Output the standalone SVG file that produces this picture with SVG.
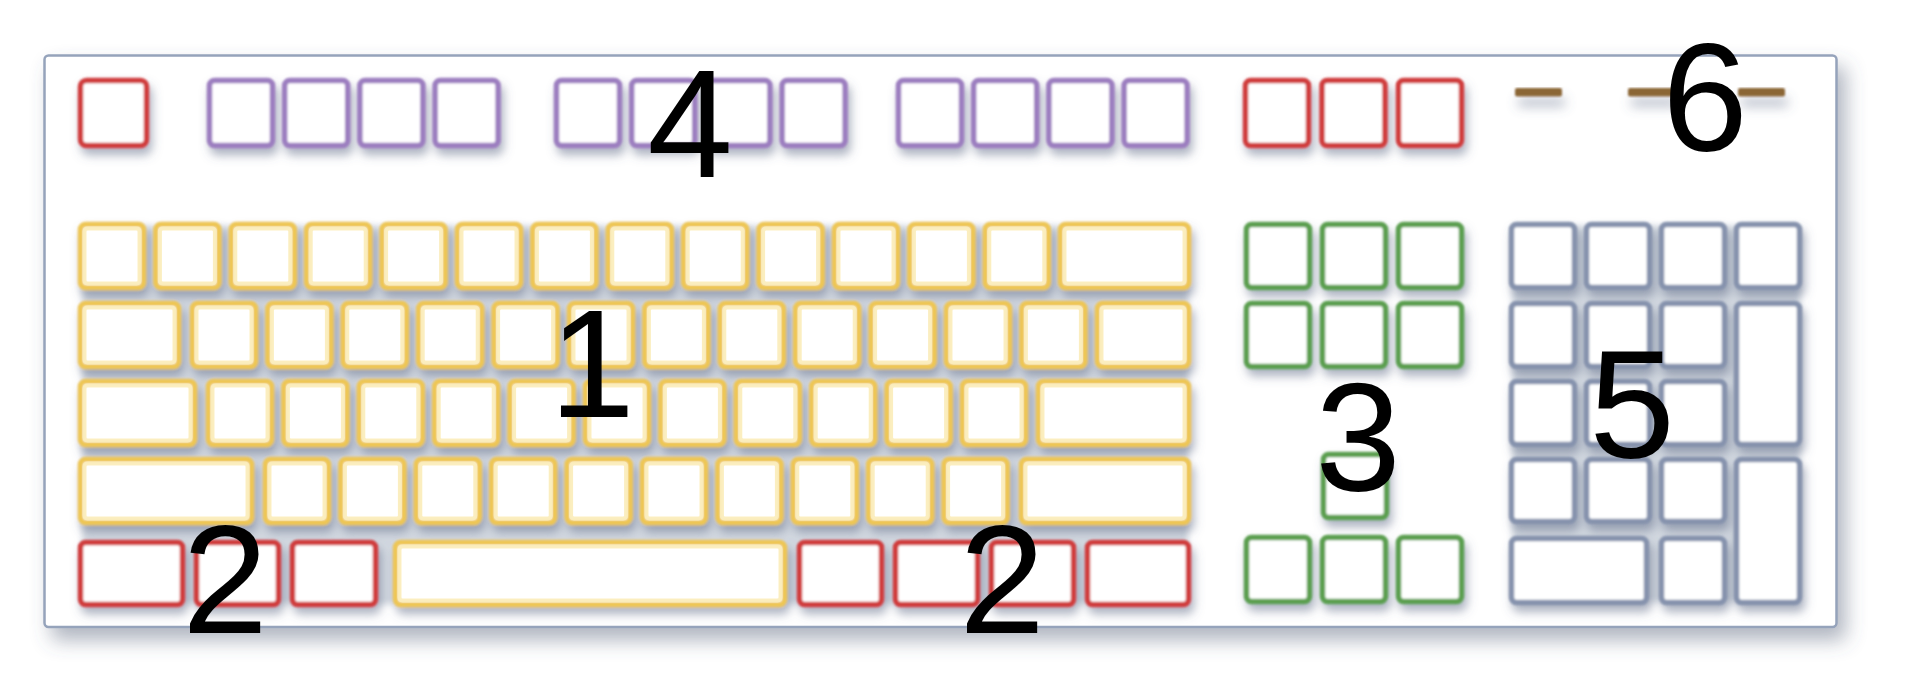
<svg xmlns="http://www.w3.org/2000/svg" width="1910" height="678" viewBox="0 0 1910 678">
<defs>
<filter id="frameShadow" x="-5%" y="-10%" width="115%" height="130%">
<feDropShadow dx="8" dy="12" stdDeviation="10" flood-color="#4d5a75" flood-opacity="0.45"/>
</filter>
<filter id="keyShadow" x="-5%" y="-20%" width="115%" height="160%">
<feDropShadow dx="3" dy="7" stdDeviation="5" flood-color="#5b6884" flood-opacity="0.5"/>
</filter>
<filter id="dashShadow" filterUnits="userSpaceOnUse" x="1490" y="60" width="330" height="90">
<feDropShadow dx="3" dy="10" stdDeviation="6" flood-color="#5b6884" flood-opacity="0.45"/>
</filter>
<filter id="soft" x="-10%" y="-10%" width="120%" height="120%">
<feGaussianBlur stdDeviation="0.8"/>
</filter>
<filter id="bgBlur" x="-5%" y="-5%" width="110%" height="110%">
<feGaussianBlur stdDeviation="3"/>
</filter>
</defs>
<style>
.k{fill:#ffffff;stroke-width:5.5}
.y{stroke:#eec655}
.yi{fill:none;stroke:#fbedba;stroke-width:4}
.r{stroke:#d03c3c}
.p{stroke:#9c7ec0}
.g{stroke:#5b9f4f}
.n{stroke:#8693ad}
.dash{fill:#8b6636}
.lbl{font-family:"Liberation Sans",Arial,sans-serif;font-size:154px;fill:#000000;text-anchor:middle}
</style>

<g id="frame">
<rect x="44.5" y="55.5" width="1792" height="571.5" rx="4" fill="#ffffff" stroke="#95a3bb" stroke-width="2.5" filter="url(#frameShadow)"/>
</g>

<g id="function-row" filter="url(#keyShadow)">
<g filter="url(#soft)">
<rect class="k r" x="80.5" y="80.5" width="66" height="65" rx="6"/>
<rect class="k p" x="209.5" y="80.5" width="63" height="65" rx="5"/>
<rect class="k p" x="284.7" y="80.5" width="63" height="65" rx="5"/>
<rect class="k p" x="359.9" y="80.5" width="63" height="65" rx="5"/>
<rect class="k p" x="435.1" y="80.5" width="63" height="65" rx="5"/>
<rect class="k p" x="556.5" y="80.5" width="63" height="65" rx="5"/>
<rect class="k p" x="631.7" y="80.5" width="63" height="65" rx="5"/>
<rect class="k p" x="706.9" y="80.5" width="63" height="65" rx="5"/>
<rect class="k p" x="782.1" y="80.5" width="63" height="65" rx="5"/>
<rect class="k p" x="898.5" y="80.5" width="63" height="65" rx="5"/>
<rect class="k p" x="973.7" y="80.5" width="63" height="65" rx="5"/>
<rect class="k p" x="1048.9" y="80.5" width="63" height="65" rx="5"/>
<rect class="k p" x="1124.1" y="80.5" width="63" height="65" rx="5"/>
<rect class="k r" x="1245.5" y="80.5" width="63" height="65" rx="5"/>
<rect class="k r" x="1322" y="80.5" width="63" height="65" rx="5"/>
<rect class="k r" x="1398.5" y="80.5" width="63" height="65" rx="5"/>
</g>
</g>

<g id="indicators" filter="url(#dashShadow)">
<g filter="url(#soft)">
<rect class="dash" x="1515" y="88" width="47" height="8.5" rx="2"/>
<rect class="dash" x="1628" y="88" width="47" height="8.5" rx="2"/>
<rect class="dash" x="1738" y="88" width="47" height="8.5" rx="2"/>
</g>
</g>

<g id="main-block">
<rect x="82" y="226" width="1106" height="378" rx="6" fill="#d2d8e0" filter="url(#bgBlur)"/>
<g filter="url(#keyShadow)">
<g filter="url(#soft)">
<!-- row 1 -->
<rect class="k y" x="80.5" y="224.5" width="63" height="63" rx="5"/>
<rect class="k y" x="155.9" y="224.5" width="63" height="63" rx="5"/>
<rect class="k y" x="231.3" y="224.5" width="63" height="63" rx="5"/>
<rect class="k y" x="306.7" y="224.5" width="63" height="63" rx="5"/>
<rect class="k y" x="382.1" y="224.5" width="63" height="63" rx="5"/>
<rect class="k y" x="457.5" y="224.5" width="63" height="63" rx="5"/>
<rect class="k y" x="532.9" y="224.5" width="63" height="63" rx="5"/>
<rect class="k y" x="608.3" y="224.5" width="63" height="63" rx="5"/>
<rect class="k y" x="683.7" y="224.5" width="63" height="63" rx="5"/>
<rect class="k y" x="759.1" y="224.5" width="63" height="63" rx="5"/>
<rect class="k y" x="834.5" y="224.5" width="63" height="63" rx="5"/>
<rect class="k y" x="909.9" y="224.5" width="63" height="63" rx="5"/>
<rect class="k y" x="985.3" y="224.5" width="63" height="63" rx="5"/>
<rect class="k y" x="1060.5" y="224.5" width="128" height="63" rx="5"/>
<!-- row 2 -->
<rect class="k y" x="80.5" y="303.5" width="98" height="63" rx="5"/>
<rect class="k y" x="192.5" y="303.5" width="63" height="63" rx="5"/>
<rect class="k y" x="267.9" y="303.5" width="63" height="63" rx="5"/>
<rect class="k y" x="343.3" y="303.5" width="63" height="63" rx="5"/>
<rect class="k y" x="418.7" y="303.5" width="63" height="63" rx="5"/>
<rect class="k y" x="494.1" y="303.5" width="63" height="63" rx="5"/>
<rect class="k y" x="569.5" y="303.5" width="63" height="63" rx="5"/>
<rect class="k y" x="644.9" y="303.5" width="63" height="63" rx="5"/>
<rect class="k y" x="720.3" y="303.5" width="63" height="63" rx="5"/>
<rect class="k y" x="795.7" y="303.5" width="63" height="63" rx="5"/>
<rect class="k y" x="871.1" y="303.5" width="63" height="63" rx="5"/>
<rect class="k y" x="946.5" y="303.5" width="63" height="63" rx="5"/>
<rect class="k y" x="1021.9" y="303.5" width="63" height="63" rx="5"/>
<rect class="k y" x="1097.5" y="303.5" width="91" height="63" rx="5"/>
<!-- row 3 -->
<rect class="k y" x="80.5" y="381.5" width="114" height="63" rx="5"/>
<rect class="k y" x="208.5" y="381.5" width="63" height="63" rx="5"/>
<rect class="k y" x="283.9" y="381.5" width="63" height="63" rx="5"/>
<rect class="k y" x="359.3" y="381.5" width="63" height="63" rx="5"/>
<rect class="k y" x="434.7" y="381.5" width="63" height="63" rx="5"/>
<rect class="k y" x="510.1" y="381.5" width="63" height="63" rx="5"/>
<rect class="k y" x="585.5" y="381.5" width="63" height="63" rx="5"/>
<rect class="k y" x="660.9" y="381.5" width="63" height="63" rx="5"/>
<rect class="k y" x="736.3" y="381.5" width="63" height="63" rx="5"/>
<rect class="k y" x="811.7" y="381.5" width="63" height="63" rx="5"/>
<rect class="k y" x="887.1" y="381.5" width="63" height="63" rx="5"/>
<rect class="k y" x="962.5" y="381.5" width="63" height="63" rx="5"/>
<rect class="k y" x="1038.5" y="381.5" width="150" height="63" rx="5"/>
<!-- row 4 -->
<rect class="k y" x="80.5" y="459.5" width="171" height="63" rx="5"/>
<rect class="k y" x="265.5" y="459.5" width="63" height="63" rx="5"/>
<rect class="k y" x="340.9" y="459.5" width="63" height="63" rx="5"/>
<rect class="k y" x="416.3" y="459.5" width="63" height="63" rx="5"/>
<rect class="k y" x="491.7" y="459.5" width="63" height="63" rx="5"/>
<rect class="k y" x="567.1" y="459.5" width="63" height="63" rx="5"/>
<rect class="k y" x="642.5" y="459.5" width="63" height="63" rx="5"/>
<rect class="k y" x="717.9" y="459.5" width="63" height="63" rx="5"/>
<rect class="k y" x="793.3" y="459.5" width="63" height="63" rx="5"/>
<rect class="k y" x="868.7" y="459.5" width="63" height="63" rx="5"/>
<rect class="k y" x="944.1" y="459.5" width="63" height="63" rx="5"/>
<rect class="k y" x="1021.5" y="459.5" width="167" height="63" rx="5"/>
<!-- row 5 -->
<rect class="k r" x="80.5" y="542.5" width="102" height="62" rx="5"/>
<rect class="k r" x="196.5" y="542.5" width="82" height="62" rx="5"/>
<rect class="k r" x="292.5" y="542.5" width="83" height="62" rx="5"/>
<rect class="k y" x="395.5" y="542.5" width="389" height="62" rx="5"/>
<rect class="k r" x="799.5" y="542.5" width="82" height="62" rx="5"/>
<rect class="k r" x="895.5" y="542.5" width="82" height="62" rx="5"/>
<rect class="k r" x="991.5" y="542.5" width="82" height="62" rx="5"/>
<rect class="k r" x="1087.5" y="542.5" width="101" height="62" rx="5"/>
</g>
<g opacity="0.9">
<rect class="yi" x="84.5" y="228.5" width="55" height="55" rx="3"/>
<rect class="yi" x="159.9" y="228.5" width="55" height="55" rx="3"/>
<rect class="yi" x="235.3" y="228.5" width="55" height="55" rx="3"/>
<rect class="yi" x="310.7" y="228.5" width="55" height="55" rx="3"/>
<rect class="yi" x="386.1" y="228.5" width="55" height="55" rx="3"/>
<rect class="yi" x="461.5" y="228.5" width="55" height="55" rx="3"/>
<rect class="yi" x="536.9" y="228.5" width="55" height="55" rx="3"/>
<rect class="yi" x="612.3" y="228.5" width="55" height="55" rx="3"/>
<rect class="yi" x="687.7" y="228.5" width="55" height="55" rx="3"/>
<rect class="yi" x="763.1" y="228.5" width="55" height="55" rx="3"/>
<rect class="yi" x="838.5" y="228.5" width="55" height="55" rx="3"/>
<rect class="yi" x="913.9" y="228.5" width="55" height="55" rx="3"/>
<rect class="yi" x="989.3" y="228.5" width="55" height="55" rx="3"/>
<rect class="yi" x="1064.5" y="228.5" width="120" height="55" rx="3"/>
<rect class="yi" x="84.5" y="307.5" width="90" height="55" rx="3"/>
<rect class="yi" x="196.5" y="307.5" width="55" height="55" rx="3"/>
<rect class="yi" x="271.9" y="307.5" width="55" height="55" rx="3"/>
<rect class="yi" x="347.3" y="307.5" width="55" height="55" rx="3"/>
<rect class="yi" x="422.7" y="307.5" width="55" height="55" rx="3"/>
<rect class="yi" x="498.1" y="307.5" width="55" height="55" rx="3"/>
<rect class="yi" x="573.5" y="307.5" width="55" height="55" rx="3"/>
<rect class="yi" x="648.9" y="307.5" width="55" height="55" rx="3"/>
<rect class="yi" x="724.3" y="307.5" width="55" height="55" rx="3"/>
<rect class="yi" x="799.7" y="307.5" width="55" height="55" rx="3"/>
<rect class="yi" x="875.1" y="307.5" width="55" height="55" rx="3"/>
<rect class="yi" x="950.5" y="307.5" width="55" height="55" rx="3"/>
<rect class="yi" x="1025.9" y="307.5" width="55" height="55" rx="3"/>
<rect class="yi" x="1101.5" y="307.5" width="83" height="55" rx="3"/>
<rect class="yi" x="84.5" y="385.5" width="106" height="55" rx="3"/>
<rect class="yi" x="212.5" y="385.5" width="55" height="55" rx="3"/>
<rect class="yi" x="287.9" y="385.5" width="55" height="55" rx="3"/>
<rect class="yi" x="363.3" y="385.5" width="55" height="55" rx="3"/>
<rect class="yi" x="438.7" y="385.5" width="55" height="55" rx="3"/>
<rect class="yi" x="514.1" y="385.5" width="55" height="55" rx="3"/>
<rect class="yi" x="589.5" y="385.5" width="55" height="55" rx="3"/>
<rect class="yi" x="664.9" y="385.5" width="55" height="55" rx="3"/>
<rect class="yi" x="740.3" y="385.5" width="55" height="55" rx="3"/>
<rect class="yi" x="815.7" y="385.5" width="55" height="55" rx="3"/>
<rect class="yi" x="891.1" y="385.5" width="55" height="55" rx="3"/>
<rect class="yi" x="966.5" y="385.5" width="55" height="55" rx="3"/>
<rect class="yi" x="1042.5" y="385.5" width="142" height="55" rx="3"/>
<rect class="yi" x="84.5" y="463.5" width="163" height="55" rx="3"/>
<rect class="yi" x="269.5" y="463.5" width="55" height="55" rx="3"/>
<rect class="yi" x="344.9" y="463.5" width="55" height="55" rx="3"/>
<rect class="yi" x="420.3" y="463.5" width="55" height="55" rx="3"/>
<rect class="yi" x="495.7" y="463.5" width="55" height="55" rx="3"/>
<rect class="yi" x="571.1" y="463.5" width="55" height="55" rx="3"/>
<rect class="yi" x="646.5" y="463.5" width="55" height="55" rx="3"/>
<rect class="yi" x="721.9" y="463.5" width="55" height="55" rx="3"/>
<rect class="yi" x="797.3" y="463.5" width="55" height="55" rx="3"/>
<rect class="yi" x="872.7" y="463.5" width="55" height="55" rx="3"/>
<rect class="yi" x="948.1" y="463.5" width="55" height="55" rx="3"/>
<rect class="yi" x="1025.5" y="463.5" width="159" height="55" rx="3"/>
<rect class="yi" x="399.5" y="546.5" width="381" height="54" rx="3"/>
</g>
</g>
</g>

<g id="navigation" filter="url(#keyShadow)">
<g filter="url(#soft)">
<rect class="k g" x="1246.5" y="224.5" width="63" height="63" rx="5"/>
<rect class="k g" x="1322.5" y="224.5" width="63" height="63" rx="5"/>
<rect class="k g" x="1398.5" y="224.5" width="63" height="63" rx="5"/>
<rect class="k g" x="1246.5" y="303.5" width="63" height="63" rx="5"/>
<rect class="k g" x="1322.5" y="303.5" width="63" height="63" rx="5"/>
<rect class="k g" x="1398.5" y="303.5" width="63" height="63" rx="5"/>
<rect class="k g" x="1323.5" y="454.5" width="63" height="63" rx="5"/>
<rect class="k g" x="1246.5" y="537.5" width="63" height="64" rx="5"/>
<rect class="k g" x="1322.5" y="537.5" width="63" height="64" rx="5"/>
<rect class="k g" x="1398.5" y="537.5" width="63" height="64" rx="5"/>
</g>
</g>

<g id="numpad">
<rect x="1512" y="226" width="288" height="376" rx="6" fill="#d2d8e0" filter="url(#bgBlur)"/>
<g filter="url(#keyShadow)">
<g filter="url(#soft)">
<rect class="k n" x="1511.5" y="224.5" width="63" height="63" rx="5"/>
<rect class="k n" x="1586.5" y="224.5" width="63" height="63" rx="5"/>
<rect class="k n" x="1661.5" y="224.5" width="63" height="63" rx="5"/>
<rect class="k n" x="1736.5" y="224.5" width="63" height="63" rx="5"/>
<rect class="k n" x="1511.5" y="303.5" width="63" height="63" rx="5"/>
<rect class="k n" x="1586.5" y="303.5" width="63" height="63" rx="5"/>
<rect class="k n" x="1661.5" y="303.5" width="63" height="63" rx="5"/>
<rect class="k n" x="1736.5" y="303.5" width="63" height="141" rx="5"/>
<rect class="k n" x="1511.5" y="381.5" width="63" height="63" rx="5"/>
<rect class="k n" x="1586.5" y="381.5" width="63" height="63" rx="5"/>
<rect class="k n" x="1661.5" y="381.5" width="63" height="63" rx="5"/>
<rect class="k n" x="1511.5" y="459.5" width="63" height="62" rx="5"/>
<rect class="k n" x="1586.5" y="459.5" width="63" height="62" rx="5"/>
<rect class="k n" x="1661.5" y="459.5" width="63" height="62" rx="5"/>
<rect class="k n" x="1736.5" y="459.5" width="63" height="143" rx="5"/>
<rect class="k n" x="1511.5" y="538.5" width="135" height="64" rx="5"/>
<rect class="k n" x="1661.5" y="538.5" width="63" height="64" rx="5"/>
</g>
</g>
</g>

<g id="labels">
<text class="lbl" x="592" y="417">1</text>
<text class="lbl" x="225" y="633">2</text>
<text class="lbl" x="1002" y="633">2</text>
<text class="lbl" x="1358" y="491">3</text>
<text class="lbl" x="690" y="177">4</text>
<text class="lbl" x="1632" y="458">5</text>
<text class="lbl" x="1705" y="151">6</text>
</g>
</svg>
